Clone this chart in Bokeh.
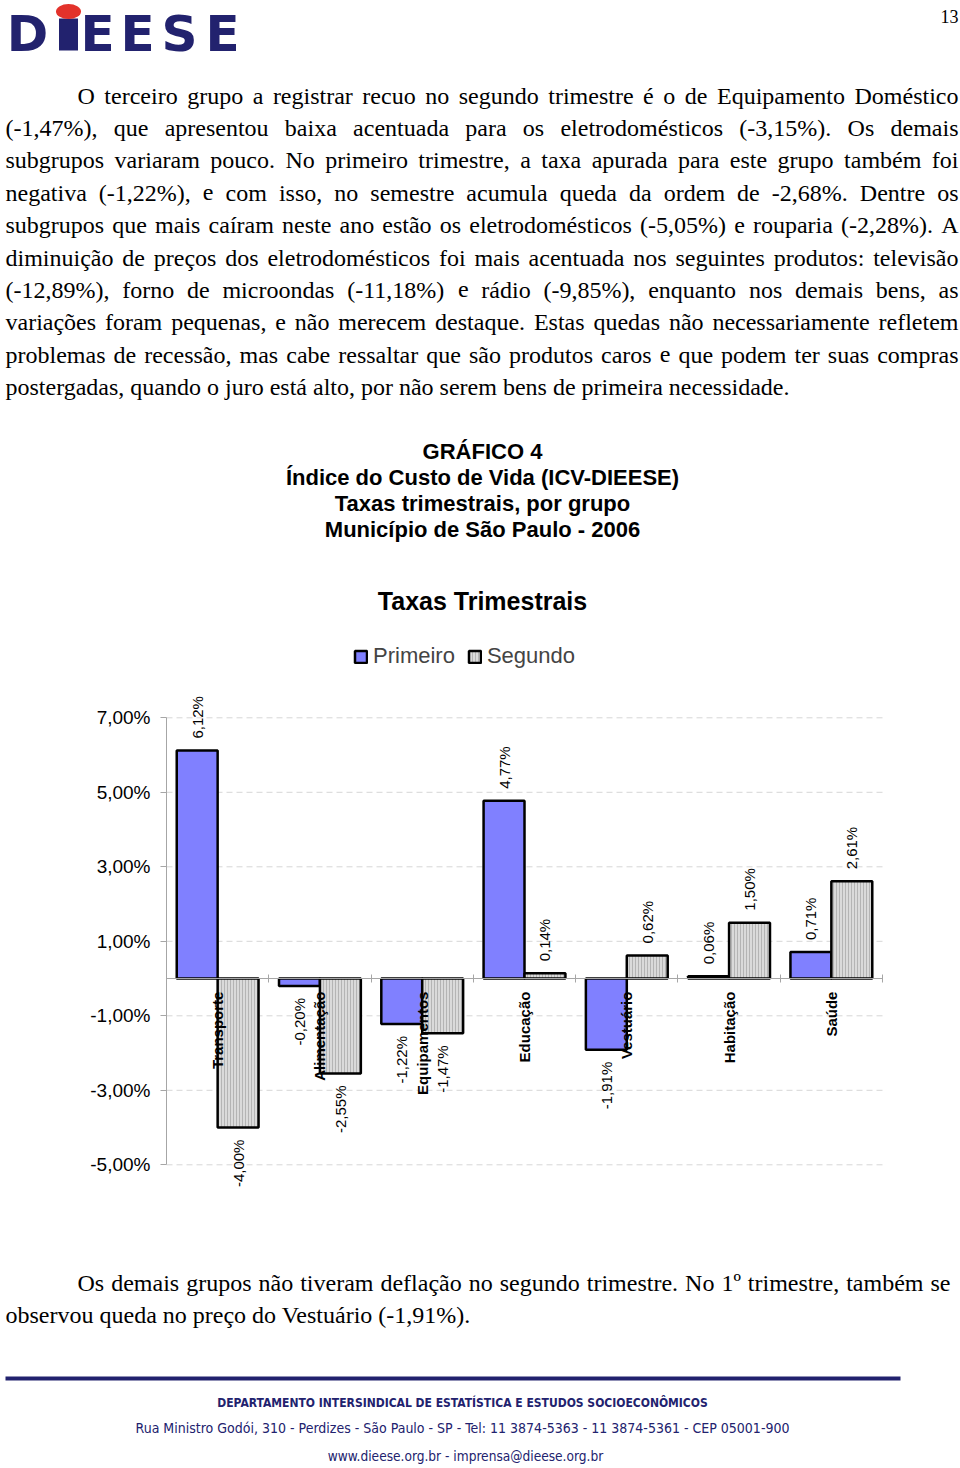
import math
import unicodedata

from bokeh.plotting import figure
from bokeh.models import (ColumnDataSource, Range1d, LinearAxis, FixedTicker,
                          Legend, LegendItem)
from bokeh.core.properties import value
from bokeh.embed import file_html
from bokeh.resources import INLINE

# ---------------------------------------------------------------- data
categories = ["Transporte", "Alimentação", "Equipamentos", "Educação",
              "Vestuário", "Habitação", "Saúde"]
primeiro = [6.12, -0.20, -1.22, 4.77, -1.91, 0.06, 0.71]
segundo = [-4.00, -2.55, -1.47, 0.14, 0.62, 1.50, 2.61]
series_names = ["Primeiro", "Segundo"]
y_ticks = [-5, -3, -1, 1, 3, 5, 7]
y_tick_labels = ["-5,00%", "-3,00%", "-1,00%", "1,00%", "3,00%", "5,00%", "7,00%"]
chart_title = "Taxas Trimestrais"
graph_titles = ["GRÁFICO 4", "Índice do Custo de Vida (ICV-DIEESE)",
                "Taxas trimestrais, por grupo", "Município de São Paulo - 2006"]
page_number = "13"
para1 = [
    "O terceiro grupo a registrar recuo no segundo trimestre é o de Equipamento Doméstico",
    "(-1,47%), que apresentou baixa acentuada para os eletrodomésticos (-3,15%). Os demais",
    "subgrupos variaram pouco. No primeiro trimestre, a taxa apurada para este grupo também foi",
    "negativa  (-1,22%), e com isso, no semestre acumula queda da ordem de -2,68%. Dentre os",
    "subgrupos que mais caíram neste ano estão os eletrodomésticos (-5,05%) e rouparia (-2,28%). A",
    "diminuição de preços dos eletrodomésticos foi mais acentuada nos seguintes produtos: televisão",
    "(-12,89%), forno de microondas (-11,18%) e rádio (-9,85%), enquanto nos demais bens, as",
    "variações foram pequenas, e não merecem destaque. Estas quedas não necessariamente refletem",
    "problemas de recessão, mas cabe ressaltar que são produtos caros e que podem ter suas compras",
    "postergadas, quando o juro está alto, por não serem bens de primeira necessidade.",
]
para2 = [
    "Os demais grupos não tiveram deflação no segundo trimestre. No 1º trimestre, também se",
    "observou queda no preço do Vestuário (-1,91%).",
]
footer_lines = [
    "DEPARTAMENTO INTERSINDICAL DE ESTATÍSTICA E ESTUDOS SOCIOECONÔMICOS",
    "Rua Ministro Godói, 310 - Perdizes - São Paulo - SP - Tel: 11 3874-5363 - 11 3874-5361 - CEP 05001-900",
    "www.dieese.org.br - imprensa@dieese.org.br",
]
logo_letters = ["D", "E", "E", "S", "E"]

# ---------------------------------------------------------------- layout constants
W, H = 960, 1468
NAVY = "#22226e"
SERIF = "Liberation Serif"
SANS = "Liberation Sans"
NARROW = "Liberation Sans Narrow, DejaVu Sans Condensed, Liberation Sans"

# page position of the chart's plotting area
x0_page, x7_page = 166.0, 882.0
y7_page, ym5_page = 717.3, 1164.3

n = len(categories)
px_x = (x7_page - x0_page) / n
px_y = (ym5_page - y7_page) / (y_ticks[-1] - y_ticks[0])
x_lo = 0 - x0_page / px_x
x_hi = n + (W - x7_page) / px_x
y_hi = y_ticks[-1] + y7_page / px_y
y_lo = y_ticks[0] - (H - ym5_page) / px_y

# Times / Liberation Serif advance widths (per 1000 em)
_TW = {" ": 250, "!": 333, "%": 833, "(": 333, ")": 333, ",": 250, "-": 333,
       ".": 250, ":": 278, ";": 278, "º": 310, "@": 921,
       "A": 722, "B": 667, "C": 667, "D": 722, "E": 611, "F": 556, "G": 722,
       "H": 722, "I": 333, "J": 389, "K": 722, "L": 611, "M": 889, "N": 722,
       "O": 722, "P": 556, "Q": 722, "R": 667, "S": 556, "T": 611, "U": 722,
       "V": 722, "W": 944, "X": 722, "Y": 722, "Z": 611,
       "a": 444, "b": 500, "c": 444, "d": 500, "e": 444, "f": 333, "g": 500,
       "h": 500, "i": 278, "j": 278, "k": 500, "l": 278, "m": 778, "n": 500,
       "o": 500, "p": 500, "q": 500, "r": 333, "s": 389, "t": 278, "u": 500,
       "v": 500, "w": 722, "x": 500, "y": 500, "z": 444}


def serif_width(s, size):
    tot = 0
    for ch in s:
        base = ch if ch in _TW else unicodedata.normalize("NFD", ch)[0]
        tot += _TW.get(base, 500)
    return tot * size / 1000.0


# ---------------------------------------------------------------- figure
p = figure(width=W, height=H, x_range=Range1d(x_lo, x_hi), y_range=Range1d(y_lo, y_hi),
           x_axis_location=None, y_axis_location=None, toolbar_location=None,
           output_backend="svg", min_border=0, outline_line_color=None,
           background_fill_color="white", border_fill_color="white")
p.grid.visible = False
p.extra_x_ranges = {"px": Range1d(0, W)}
p.extra_y_ranges = {"py": Range1d(H, 0)}


def add_text(xs, ys, texts, size, font, align="left", baseline="alphabetic",
             bold=False, color="black"):
    p.text(x=xs, y=ys, text=texts, text_font=value(font),
           text_font_size=f"{size}px", text_align=align,
           text_baseline=baseline, text_color=color,
           text_font_style="bold" if bold else "normal",
           x_range_name="px", y_range_name="py")


def add_paragraph(lines, x_first, x_left, x_right, y0, dy, size):
    wx, wy, wt = [], [], []
    lx, ly, lt = [], [], []
    for k, line in enumerate(lines):
        xs = x_first if k == 0 else x_left
        y = y0 + k * dy
        if k == len(lines) - 1:
            lx.append(xs); ly.append(y); lt.append(line)
            continue
        words = line.split()
        widths = [serif_width(w, size) for w in words]
        gap = (x_right - xs - sum(widths)) / (len(words) - 1)
        x = xs
        for w, wd in zip(words, widths):
            wx.append(x); wy.append(y); wt.append(w)
            x += wd + gap
    add_text(wx, wy, wt, size, SERIF)
    add_text(lx, ly, lt, size, SERIF)


# ---- header: logo and page number
p.rect(x=[68], y=[34], width=[19], height=[32], fill_color=NAVY, line_color=None,
       x_range_name="px", y_range_name="py")
p.ellipse(x=[68], y=[11], width=[25], height=[15], fill_color="#e3322b", line_color=None,
          x_range_name="px", y_range_name="py")
add_text([27, 97, 137, 179, 222], [33] * 5, logo_letters, 50, "DejaVu Sans",
         align="center", bold=True, color=NAVY)
add_text([958], [16], [page_number], 18, SERIF, align="right", baseline="middle")

# ---- paragraphs and titles
add_paragraph(para1, 77, 5, 958, 95, 32.4, 24)
add_text([482] * 4, [451, 477, 503, 529], graph_titles, 22, SANS,
         align="center", baseline="middle", bold=True)
add_text([482], [600], [chart_title], 25, SANS, align="center",
         baseline="middle", bold=True)
add_paragraph(para2, 77, 5, 950, 1282, 32.4, 24)

# ---- footer
p.segment(x0=[5], y0=[1378], x1=[900], y1=[1378], line_color=NAVY, line_width=4,
          x_range_name="px", y_range_name="py")
add_text([462], [1402], [footer_lines[0]], 12, NARROW, align="center",
         baseline="middle", bold=True, color=NAVY)
add_text([462], [1427], [footer_lines[1]], 14, NARROW, align="center",
         baseline="middle", color=NAVY)
add_text([465], [1455], [footer_lines[2]], 13.6, NARROW, align="center",
         baseline="middle", color=NAVY)

# ---------------------------------------------------------------- chart
# dashed gridlines at the y ticks across the category span
p.segment(x0=[0] * len(y_ticks), x1=[n] * len(y_ticks), y0=y_ticks, y1=y_ticks,
          line_color="#d6d6d6", line_dash="6 4", line_width=1)

yax = LinearAxis(fixed_location=0, ticker=FixedTicker(ticks=y_ticks),
                 major_label_overrides=dict(zip(y_ticks, y_tick_labels)),
                 bounds=(y_ticks[0], y_ticks[-1]),
                 axis_line_color="#a6a6a6", major_tick_line_color="#a6a6a6",
                 major_tick_in=0, major_tick_out=6, minor_tick_line_color=None,
                 major_label_text_font=SANS, major_label_text_font_size="19px",
                 major_label_text_color="black", major_label_standoff=10)
p.add_layout(yax, "left")

centers = [i + 0.5 for i in range(n)]
bar_w = 0.4
off = [-bar_w / 2, bar_w / 2]


def fmt(v):
    return f"{v:.2f}".replace(".", ",") + "%"


src1 = ColumnDataSource(dict(x=[c + off[0] for c in centers], top=primeiro))
src2 = ColumnDataSource(dict(x=[c + off[1] for c in centers], top=segundo))
r1 = p.vbar(x="x", top="top", bottom=0, width=bar_w, source=src1,
            fill_color="#8080ff", line_color="black", line_width=2.5)
r2 = p.vbar(x="x", top="top", bottom=0, width=bar_w, source=src2,
            fill_color="#dadada", line_color="black", line_width=2.5,
            hatch_pattern="vertical_line", hatch_color="#a4a4a4",
            hatch_scale=3, hatch_weight=0.7)

# category axis through zero: ticks at the group boundaries
bounds_ticks = list(range(n + 1))
ax0 = LinearAxis(fixed_location=0, ticker=FixedTicker(ticks=bounds_ticks),
                 major_label_overrides={t: "" for t in bounds_ticks},
                 bounds=(0, n), major_tick_in=4, major_tick_out=4,
                 axis_line_color="#a6a6a6", major_tick_line_color="#a6a6a6",
                 minor_tick_line_color=None)
p.add_layout(ax0, "below")
# category names, vertical, under the zero line
axc = LinearAxis(fixed_location=0, ticker=FixedTicker(ticks=centers),
                 major_label_overrides=dict(zip(centers, categories)),
                 major_label_orientation=math.pi / 2, bounds=(0, n),
                 major_tick_in=0, major_tick_out=0,
                 axis_line_color=None, major_tick_line_color=None,
                 minor_tick_line_color=None, major_label_standoff=13,
                 major_label_text_font=SANS, major_label_text_font_size="15px",
                 major_label_text_font_style="bold", major_label_text_color="black")
p.add_layout(axc, "below")

# data labels
for vals, o in zip([primeiro, segundo], off):
    pos = [(c + o, v, fmt(v)) for c, v in zip(centers, vals) if v >= 0]
    neg = [(c + o, v, fmt(v)) for c, v in zip(centers, vals) if v < 0]
    for items, align, yo in [(pos, "left", -12), (neg, "right", 12)]:
        if not items:
            continue
        xs, ys, ts = zip(*items)
        p.text(x=list(xs), y=list(ys), text=list(ts), angle=math.pi / 2,
               text_align=align, text_baseline="middle", y_offset=yo,
               text_font=value(SANS), text_font_size="15px", text_color="black")

legend = Legend(items=[LegendItem(label=series_names[0], renderers=[r1]),
                       LegendItem(label=series_names[1], renderers=[r2])],
                orientation="horizontal", location=(353, 799), padding=0, margin=0,
                spacing=12, label_standoff=5, glyph_width=15, glyph_height=15,
                border_line_color=None, background_fill_alpha=0,
                label_text_font=SANS, label_text_font_size="22px")
p.add_layout(legend)

open("out.html", "w").write(file_html(p, INLINE))
